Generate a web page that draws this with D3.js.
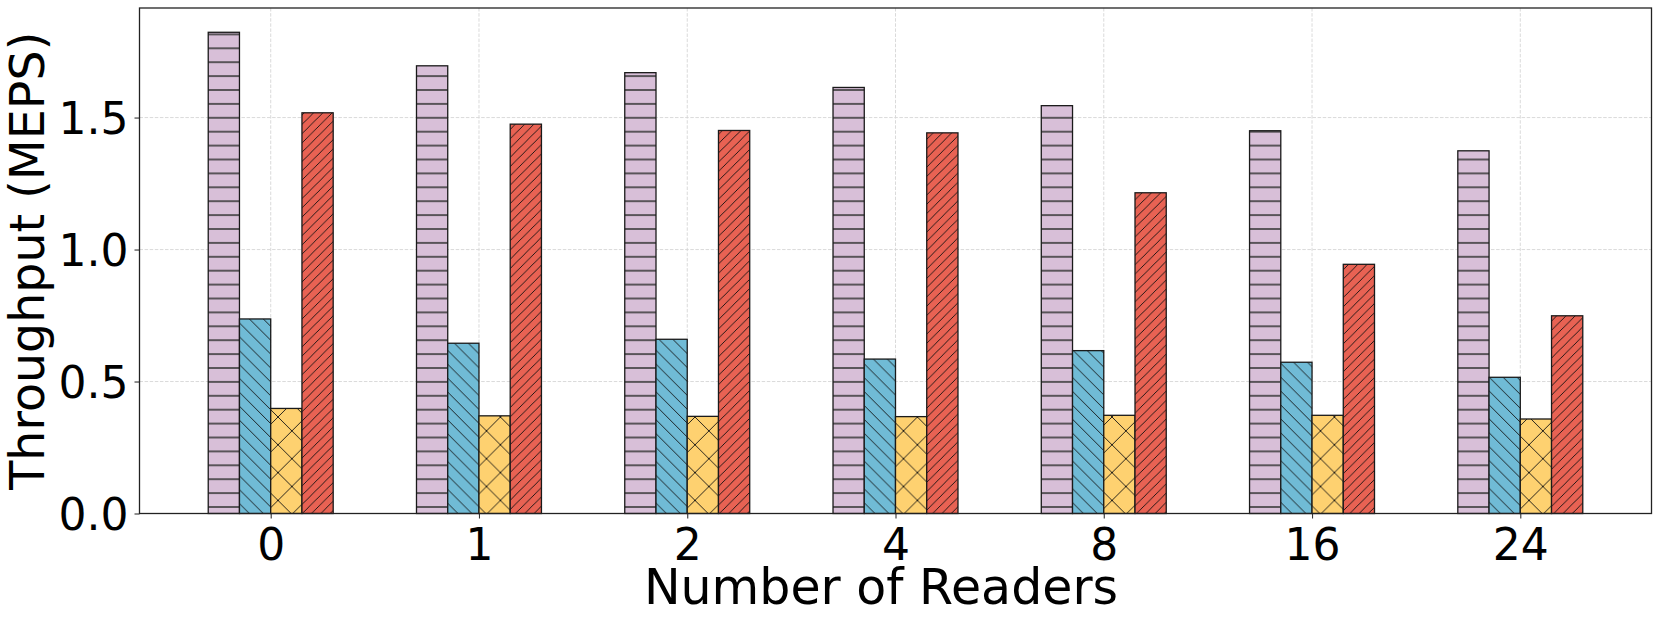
<!DOCTYPE html>
<html>
<head>
<meta charset="utf-8">
<script src="https://cdn.jsdelivr.net/npm/d3@7"></script>
<style>
  html, body { margin: 0; padding: 0; background: #fff; }
  svg { display: block; }
  text { font-family: "DejaVu Sans", sans-serif; fill: #000; }
</style>
</head>
<body>
<svg id="chart" width="1660" height="625"></svg>
<script>
// ---- data ----
const categories = ["0", "1", "2", "4", "8", "16", "24"];
const seriesNames = ["S1", "S2", "S3", "S4"];
const purpleValues = [1.823, 1.696, 1.670, 1.614, 1.545, 1.450, 1.374];
const blueValues   = [0.737, 0.645, 0.660, 0.585, 0.617, 0.573, 0.516];
const yellowValues = [0.398, 0.370, 0.368, 0.367, 0.372, 0.372, 0.358];
const redValues    = [1.518, 1.475, 1.451, 1.442, 1.215, 0.944, 0.749];
const yTicks = [0.0, 0.5, 1.0, 1.5];
const xLabel = "Number of Readers";
const yLabel = "Throughput (MEPS)";

// ---- styles ----
const colors = ["#D8BFD8", "#70BBD6", "#FED170", "#E86253"];
const hatches = ["hHoriz", "hBack", "hCross", "hFwd"];
const barWidth = 0.15;

const svg = d3.select("#chart");
const margin = { left: 139.5, right: 1651.5, top: 8, bottom: 513.5 };

const x = d3.scaleLinear().domain([-0.63, categories.length - 1 + 0.63]).range([margin.left, margin.right]);
const y = d3.scaleLinear().domain([0, 1.915]).range([margin.bottom, margin.top]);

// ---- hatch patterns ----
const defs = svg.append("defs");
const hc = "#111", hw = 0.9;
let p = defs.append("pattern").attr("id", "hHoriz").attr("patternUnits", "userSpaceOnUse")
  .attr("width", 20).attr("height", 13.9).attr("y", -0.35);
p.append("line").attr("x1", 0).attr("x2", 20).attr("y1", 6.95).attr("y2", 6.95)
  .attr("stroke", "#3a3a3a").attr("stroke-width", 1.6);
function diag(id, s, dir) {
  const pt = defs.append("pattern").attr("id", id).attr("patternUnits", "userSpaceOnUse")
    .attr("width", s).attr("height", s);
  const g = pt.append("g").attr("stroke", hc).attr("stroke-width", hw);
  if (dir === "fwd" || dir === "both") {
    g.append("line").attr("x1", 0).attr("y1", s).attr("x2", s).attr("y2", 0);
    g.append("line").attr("x1", -s/2).attr("y1", s/2).attr("x2", s/2).attr("y2", -s/2);
    g.append("line").attr("x1", s/2).attr("y1", s*1.5).attr("x2", s*1.5).attr("y2", s/2);
  }
  if (dir === "back" || dir === "both") {
    g.append("line").attr("x1", 0).attr("y1", 0).attr("x2", s).attr("y2", s);
    g.append("line").attr("x1", -s/2).attr("y1", s/2).attr("x2", s/2).attr("y2", s*1.5);
    g.append("line").attr("x1", s/2).attr("y1", -s/2).attr("x2", s*1.5).attr("y2", s/2);
  }
}
diag("hFwd", 9.27, "fwd");
diag("hBack", 13.9, "back");
diag("hCross", 27.8, "both");

// ---- grid ----
const grid = svg.append("g");
grid.selectAll("line.gy").data(yTicks).enter().append("line")
  .attr("x1", margin.left).attr("x2", margin.right)
  .attr("y1", d => y(d)).attr("y2", d => y(d))
  .attr("stroke", "#d6d6d6").attr("stroke-width", 0.9).attr("stroke-dasharray", "3.5,1.6");
grid.selectAll("line.gx").data(categories).enter().append("line")
  .attr("x1", (d, i) => x(i)).attr("x2", (d, i) => x(i))
  .attr("y1", margin.top).attr("y2", margin.bottom)
  .attr("stroke", "#d6d6d6").attr("stroke-width", 0.9).attr("stroke-dasharray", "3.5,1.6");

// ---- bars ----
const series = [purpleValues, blueValues, yellowValues, redValues];
series.forEach((vals, s) => {
  const off = (s - 1.5) * barWidth;
  const g = svg.append("g");
  const bars = g.selectAll("g").data(vals).enter().append("g");
  const bx = (d, i) => x(i + off - barWidth / 2);
  const bw = (d, i) => x(i + off + barWidth / 2) - x(i + off - barWidth / 2);
  bars.append("rect").attr("x", bx).attr("width", bw)
    .attr("y", d => y(d)).attr("height", d => y(0) - y(d))
    .attr("fill", colors[s]);
  bars.append("rect").attr("x", bx).attr("width", bw)
    .attr("y", d => y(d)).attr("height", d => y(0) - y(d))
    .attr("fill", `url(#${hatches[s]})`);
  bars.append("rect").attr("x", bx).attr("width", bw)
    .attr("y", d => y(d)).attr("height", d => y(0) - y(d))
    .attr("fill", "none").attr("stroke", "#1a1a1a").attr("stroke-width", 1.3);
});

// ---- axes ----
const xAxis = d3.axisBottom(x).tickValues(categories.map((d, i) => i))
  .tickFormat(i => categories[i]).tickSize(5).tickPadding(8);
const yAxis = d3.axisLeft(y).tickValues(yTicks).tickFormat(d3.format(".1f")).tickSize(5).tickPadding(6);

const gx = svg.append("g").attr("transform", `translate(0,${margin.bottom})`).call(xAxis);
gx.select(".domain").remove();
gx.selectAll("line").attr("stroke", "#333").attr("stroke-width", 1.1);
gx.selectAll("text").attr("font-size", 44).attr("font-family", "DejaVu Sans").attr("dy", "0.76em");

const gy = svg.append("g").attr("transform", `translate(${margin.left},0)`).call(yAxis);
gy.select(".domain").remove();
gy.selectAll("line").attr("stroke", "#333").attr("stroke-width", 1.1);
gy.selectAll("text").attr("font-size", 44).attr("font-family", "DejaVu Sans").attr("dy", "0.36em");

// frame
svg.append("rect").attr("x", margin.left).attr("y", margin.top)
  .attr("width", margin.right - margin.left).attr("height", margin.bottom - margin.top)
  .attr("fill", "none").attr("stroke", "#222").attr("stroke-width", 1.3);

// labels
svg.append("text").attr("x", 881).attr("y", 604)
  .attr("text-anchor", "middle").attr("font-size", 49).text(xLabel);
svg.append("text").attr("transform", `translate(43.5,${(margin.top + margin.bottom) / 2}) rotate(-90)`)
  .attr("text-anchor", "middle").attr("font-size", 47.5).text(yLabel);
</script>
</body>
</html>
